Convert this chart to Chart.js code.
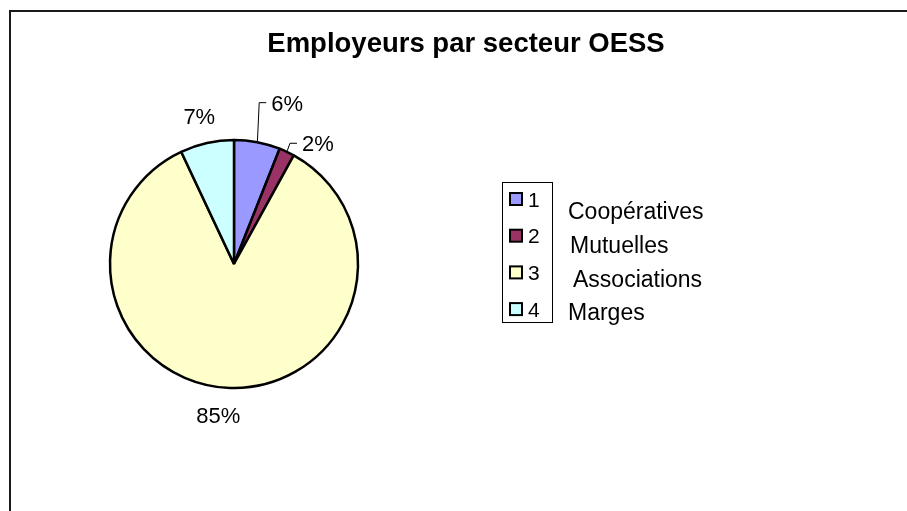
<!DOCTYPE html>
<html>
<head>
<meta charset="utf-8">
<script src="https://cdn.jsdelivr.net/npm/chart.js@4/dist/chart.umd.min.js"></script>
<style>
html,body{margin:0;padding:0;background:#fff;}
#wrap{position:relative;width:907px;height:511px;}
</style>
</head>
<body>
<div id="wrap"><canvas id="c" width="907" height="511"></canvas></div>
<script>
// ---- data ----
const titleText = "Employeurs par secteur OESS";
const legendKeys = ["1", "2", "3", "4"];
const categories = ["Coopératives", "Mutuelles", "Associations", "Marges"];
const shares = [6, 2, 85, 7];
const sliceColors = ["#9999FF", "#993366", "#FFFFCC", "#CCFFFF"];

const FONT = "'Liberation Sans', Arial, sans-serif";

const decor = {
  id: 'decor',
  beforeDraw(chart) {
    const ctx = chart.ctx;
    ctx.save();
    ctx.fillStyle = '#fff';
    ctx.fillRect(0, 0, chart.width, chart.height);
    // frame
    ctx.strokeStyle = '#1a1a1a';
    ctx.lineWidth = 2;
    ctx.strokeRect(10, 11, 2000, 2000);
    // title
    ctx.fillStyle = '#000';
    ctx.font = 'bold 27.5px ' + FONT;
    ctx.textAlign = 'center';
    ctx.textBaseline = 'alphabetic';
    ctx.fillText(titleText, 466, 52);
    ctx.restore();
  },
  afterDatasetsDraw(chart, args, opts) {
    const ctx = chart.ctx;
    const meta = chart.getDatasetMeta(0);
    const total = shares.reduce((a, b) => a + b, 0);
    ctx.save();
    ctx.font = '22px ' + FONT;
    ctx.fillStyle = '#000';
    ctx.textAlign = 'center';
    ctx.textBaseline = 'alphabetic';
    meta.data.forEach((arc, i) => {
      const p = arc.getProps(['x', 'y', 'startAngle', 'endAngle', 'outerRadius'], true);
      const mid = (p.startAngle + p.endAngle) / 2;
      const off = opts.offsets[i];
      const r = p.outerRadius + 26;
      const cx = p.x + Math.cos(mid) * r + off[0];
      const cy = p.y + Math.sin(mid) * r + off[1];
      const txt = Math.round(shares[i] / total * 100) + '%';
      ctx.textAlign = 'center';
      ctx.fillText(txt, cx, cy + 8);
      if (opts.leaders[i]) {
        const w = ctx.measureText(txt).width;
        const ax = p.x + Math.cos(mid) * (p.outerRadius + 1);
        const ay = p.y + Math.sin(mid) * (p.outerRadius + 1);
        const lx = cx - w / 2 - 5;
        const ly = cy;
        ctx.strokeStyle = '#000';
        ctx.lineWidth = 1;
        ctx.beginPath();
        ctx.moveTo(ax, ay);
        ctx.lineTo(lx - 7, ly);
        ctx.lineTo(lx, ly);
        ctx.stroke();
      }
    });
    // legend box
    ctx.strokeStyle = '#000';
    ctx.lineWidth = 1;
    ctx.strokeRect(502.5, 182.5, 50, 140);
    const ds = chart.data.datasets[0];
    legendKeys.forEach((k, i) => {
      const yc = 199 + i * 36.7;
      ctx.fillStyle = ds.backgroundColor[i];
      ctx.fillRect(510, yc - 6, 12, 12);
      ctx.lineWidth = 2;
      ctx.strokeStyle = '#000';
      ctx.strokeRect(510, yc - 6, 12, 12);
      ctx.fillStyle = '#000';
      ctx.font = '21px ' + FONT;
      ctx.textAlign = 'left';
      ctx.fillText(k, 528, yc + 7.5);
    });
    // category names
    const nameX = [568, 570, 573, 568];
    const nameY = [219, 253, 287, 320];
    ctx.font = '23px ' + FONT;
    ctx.textAlign = 'left';
    categories.forEach((n, i) => {
      ctx.fillText(n, nameX[i], nameY[i]);
    });
    ctx.restore();
  }
};

new Chart(document.getElementById('c'), {
  type: 'pie',
  data: {
    labels: categories,
    datasets: [{
      data: shares,
      backgroundColor: sliceColors,
      borderColor: '#000',
      borderWidth: 2.5,
      hoverOffset: 0
    }]
  },
  options: {
    responsive: false,
    animation: false,
    radius: 124,
    layout: { padding: { left: 0, right: 439, top: 17, bottom: 0 } },
    plugins: {
      legend: { display: false },
      title: { display: false },
      tooltip: { enabled: false },
      decor: {
        offsets: [[25, -14], [20, 15], [-11, 1], [-2, -2]],
        leaders: [true, true, false, false]
      }
    }
  },
  plugins: [decor]
});
</script>
</body>
</html>
